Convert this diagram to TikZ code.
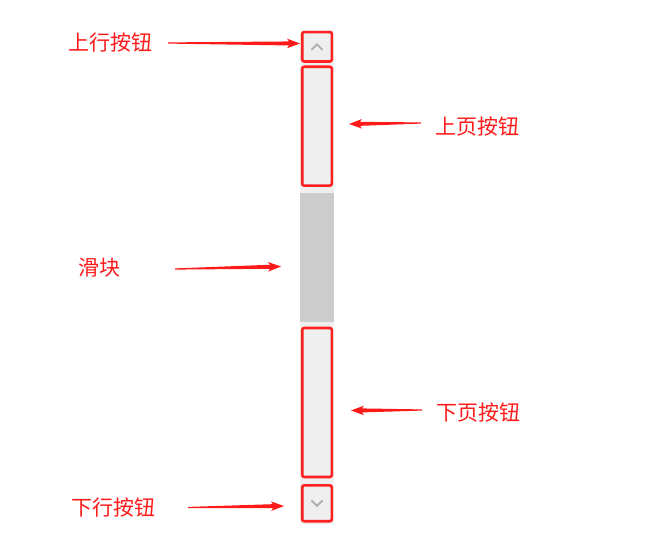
\documentclass[tikz,border=0pt]{standalone}
\usepackage{fontspec}
\newfontfamily\cjk{Noto Sans CJK SC}
\usetikzlibrary{calc}
\definecolor{lblred}{HTML}{FF1A1A}
\definecolor{boxred}{HTML}{FF2020}
\definecolor{trackgray}{HTML}{EFEFEF}
\definecolor{thumbgray}{HTML}{CCCCCC}
\definecolor{chevgray}{HTML}{ADADAD}
\tikzset{
  lbl/.style={text=lblred, font=\cjk\fontsize{21}{22}\selectfont, inner sep=0pt, anchor=west},
  redbox/.style={draw=boxred, line width=2.6pt, rounded corners=2pt, inner sep=0pt},
  chev/.style={draw=chevgray, line width=1.8pt},
}
\newcommand\taperarrow[2]{%
  \fill[lblred] ($(#1)!0.6pt!90:(#2)$) -- ($($(#2)!11pt!(#1)$)!2pt!90:(#2)$)
    -- ($($(#2)!13pt!(#1)$)!4.8pt!90:(#2)$) -- (#2)
    -- ($($(#2)!13pt!(#1)$)!4.8pt!-90:(#2)$)
    -- ($($(#2)!11pt!(#1)$)!2pt!-90:(#2)$) -- ($(#1)!0.6pt!-90:(#2)$) -- cycle;}
\begin{document}
\begin{tikzpicture}[x=1pt,y=-1pt]
\useasboundingbox (0,0) rectangle (665,543);
% track and thumb
\fill[trackgray] (300,30) rectangle (334,524);
\fill[thumbgray] (300,193) rectangle (334,322);
% boxes
\node[redbox, minimum width=29.6pt, minimum height=29.4pt] (up) at (317,46.8) {};
\node[redbox, minimum width=29.6pt, minimum height=118.8pt] (pgup) at (317,126.2) {};
\node[redbox, minimum width=29.6pt, minimum height=149pt] (pgdn) at (317,402.5) {};
\node[redbox, minimum width=29.6pt, minimum height=35.8pt] (dn) at (317,503.3) {};
\coordinate (thumb) at (317,257.5);
% chevrons
\draw[chev] ($(up)+(-5.5,3)$) -- ($(up)+(0,-2.5)$) -- ($(up)+(5.5,3)$);
\draw[chev] ($(dn)+(-5.5,-3)$) -- ($(dn)+(0,2.5)$) -- ($(dn)+(5.5,-3)$);
% labels
\node[lbl] (l1) at (68,42) {上行按钮};
\node[lbl] (l2) at (435,126) {上页按钮};
\node[lbl] (l3) at (78,268) {滑块};
\node[lbl] (l4) at (436,412) {下页按钮};
\node[lbl] (l5) at (71,507) {下行按钮};
% arrow endpoints
\coordinate (a1s) at (168,43);  \coordinate (a1e) at (300,43.5);
\coordinate (a2s) at (421,123); \coordinate (a2e) at (349,124);
\coordinate (a3s) at (175,269); \coordinate (a3e) at (281,266.5);
\coordinate (a4s) at (422,410); \coordinate (a4e) at (351,410.5);
\coordinate (a5s) at (188,507.5); \coordinate (a5e) at (284,506);
\taperarrow{a1s}{a1e}
\taperarrow{a2s}{a2e}
\taperarrow{a3s}{a3e}
\taperarrow{a4s}{a4e}
\taperarrow{a5s}{a5e}
\end{tikzpicture}
\end{document}
